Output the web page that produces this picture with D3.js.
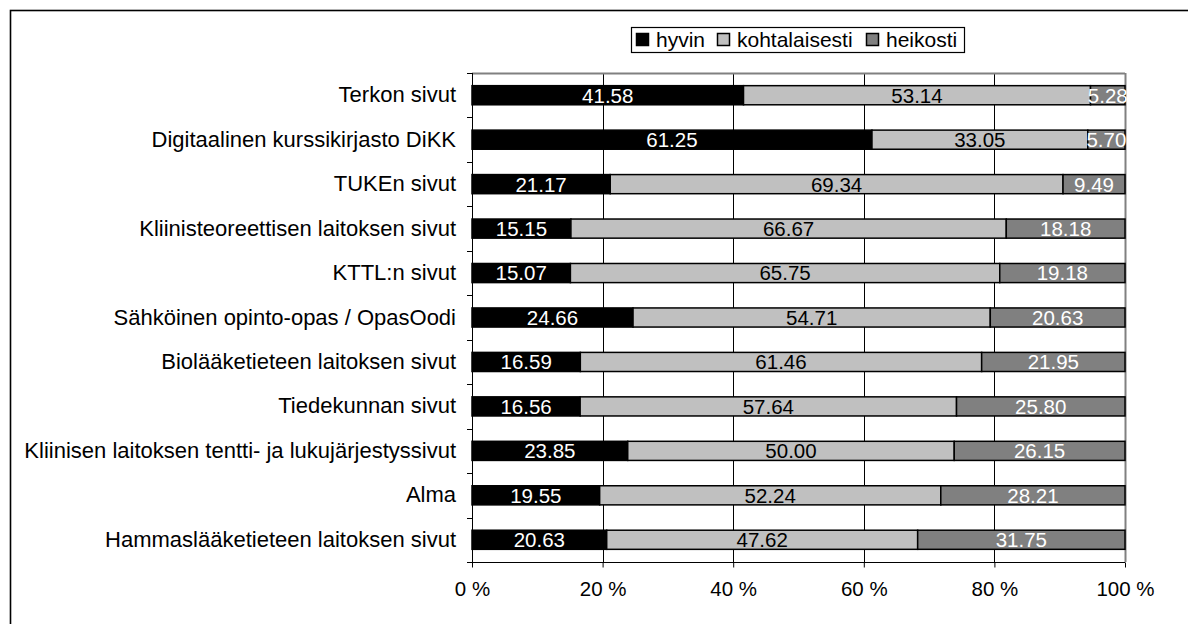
<!DOCTYPE html>
<html>
<head>
<meta charset="utf-8">
<script src="https://cdnjs.cloudflare.com/ajax/libs/d3/7.8.5/d3.min.js"></script>
<style>
  body { margin: 0; background: #fff; }
  #chart { width: 1188px; height: 624px; }
  text { font-family: "Liberation Sans", Arial, sans-serif; }
</style>
</head>
<body>
<div id="chart"></div>
<script>
var categories = ['Terkon sivut', 'Digitaalinen kurssikirjasto DiKK', 'TUKEn sivut',
                  'Kliinisteoreettisen laitoksen sivut', 'KTTL:n sivut',
                  'Sähköinen opinto-opas / OpasOodi', 'Biolääketieteen laitoksen sivut',
                  'Tiedekunnan sivut', 'Kliinisen laitoksen tentti- ja lukujärjestyssivut',
                  'Alma', 'Hammaslääketieteen laitoksen sivut'];
var seriesNames = ['hyvin', 'kohtalaisesti', 'heikosti'];
var hyvin = [41.58, 61.25, 21.17, 15.15, 15.07, 24.66, 16.59, 16.56, 23.85, 19.55, 20.63];
var kohtalaisesti = [53.14, 33.05, 69.34, 66.67, 65.75, 54.71, 61.46, 57.64, 50.00, 52.24, 47.62];
var heikosti = [5.28, 5.70, 9.49, 18.18, 19.18, 20.63, 21.95, 25.80, 26.15, 28.21, 31.75];
var ticks = [0, 20, 40, 60, 80, 100];

var fills = ['#000000', '#c0c0c0', '#808080'];
var labelColors = ['#ffffff', '#000000', '#ffffff'];

function drawChart(){
  var svg = d3.select('#chart').append('svg')
      .attr('width', 1188)
      .attr('height', 624);

  // outer frame, runs off the right and bottom edge
  svg.append('rect')
    .attr('x', 10.5).attr('y', 10.5)
    .attr('width', 1300).attr('height', 700)
    .attr('fill', 'none').attr('stroke', '#000').attr('stroke-width', 1.6);

  var margin = {left: 472, right: 63, top: 73, bottom: 62};
  var width = 1188 - margin.left - margin.right,
      height = 624 - margin.top - margin.bottom;

  var g = svg.append('g')
      .attr('transform', 'translate(' + margin.left + ',' + margin.top + ')');

  var x = d3.scaleLinear().domain([0, 100]).range([0, width]);
  var y = d3.scaleBand().domain(categories).range([0, height])
      .paddingInner(0.57).paddingOuter(0.285);

  var rows = categories.map(function(c, i){
    return {name: c, hyvin: hyvin[i], kohtalaisesti: kohtalaisesti[i], heikosti: heikosti[i]};
  });
  var stacked = d3.stack().keys(seriesNames)(rows);

  // gridlines
  g.selectAll('.grid').data(ticks.slice(1))
    .enter().append('line')
    .attr('x1', function(d){ return Math.round(x(d)) + 0.5; })
    .attr('x2', function(d){ return Math.round(x(d)) + 0.5; })
    .attr('y1', 0).attr('y2', height)
    .attr('stroke', function(d){ return d == 100 ? '#808080' : '#000'; })
    .attr('stroke-width', function(d){ return d == 100 ? 2 : 1; });
  g.append('line')
    .attr('x1', 0).attr('x2', width)
    .attr('y1', 0.5).attr('y2', 0.5)
    .attr('stroke', '#808080').attr('stroke-width', 2);

  // bars
  var layer = g.selectAll('.layer').data(stacked)
    .enter().append('g');
  layer.selectAll('rect').data(function(d){ return d; })
    .enter().append('rect')
    .attr('x', function(d){ return x(d[0]); })
    .attr('y', function(d){ return y(d.data.name); })
    .attr('width', function(d){ return x(d[1]) - x(d[0]); })
    .attr('height', y.bandwidth())
    .attr('fill', function(d, i, nodes){ return fills[seriesNames.indexOf(d3.select(nodes[i].parentNode).datum().key)]; })
    .attr('stroke', '#000').attr('stroke-width', 1.5);

  // data labels
  layer.each(function(s, k){
    d3.select(this).selectAll('text').data(s)
      .enter().append('text')
      .attr('x', function(d){ return (x(d[0]) + x(d[1])) / 2; })
      .attr('y', function(d){ return y(d.data.name) + y.bandwidth() / 2; })
      .attr('dy', '0.36em')
      .attr('text-anchor', 'middle')
      .attr('font-size', 20.5)
      .attr('fill', labelColors[k])
      .text(function(d){ return (d[1] - d[0]).toFixed(2); });
  });

  // axes
  var yAxis = d3.axisLeft(y).tickSize(0).tickPadding(16);
  var yg = g.append('g').call(yAxis);
  yg.select('.domain').remove();
  yg.selectAll('text').attr('font-size', 22).attr('fill', '#000');
  // ticks between categories
  var bounds = d3.range(categories.length + 1).map(function(i){ return i * y.step(); });
  g.selectAll('.ytick').data(bounds).enter().append('line')
    .attr('x1', -5).attr('x2', 0)
    .attr('y1', function(d){ return Math.round(d) + 0.5; })
    .attr('y2', function(d){ return Math.round(d) + 0.5; })
    .attr('stroke', '#000');
  g.append('line')
    .attr('x1', 0.5).attr('x2', 0.5).attr('y1', 0).attr('y2', height)
    .attr('stroke', '#000');

  var xAxis = d3.axisBottom(x).tickValues(ticks).tickSize(5).tickPadding(14)
      .tickFormat(function(d){ return d + ' %'; });
  var xg = g.append('g').attr('transform', 'translate(0,' + (height + 0.5) + ')').call(xAxis);
  xg.select('.domain').attr('d', 'M0,0H' + width).attr('stroke', '#000');
  xg.selectAll('text').attr('font-size', 20.5).attr('fill', '#000');
  xg.selectAll('.tick line').attr('stroke', '#000');

  // legend
  var legend = svg.append('g').attr('transform', 'translate(631,27)');
  legend.append('rect')
    .attr('x', 0.5).attr('y', 0.5).attr('width', 333).attr('height', 25)
    .attr('fill', '#fff').attr('stroke', '#000').attr('stroke-width', 1.2);
  var legendX = [5, 86, 235];
  var item = legend.selectAll('.item').data(seriesNames)
    .enter().append('g')
    .attr('transform', function(d, i){ return 'translate(' + legendX[i] + ',0)'; });
  item.append('rect')
    .attr('x', 0.5).attr('y', 6.5).attr('width', 12).attr('height', 12)
    .attr('fill', function(d, i){ return fills[i]; })
    .attr('stroke', '#000').attr('stroke-width', 1.5);
  item.append('text')
    .attr('x', 20).attr('y', 19.5)
    .attr('font-size', 21)
    .text(function(d){ return d; });
}

drawChart();
</script>
</body>
</html>
